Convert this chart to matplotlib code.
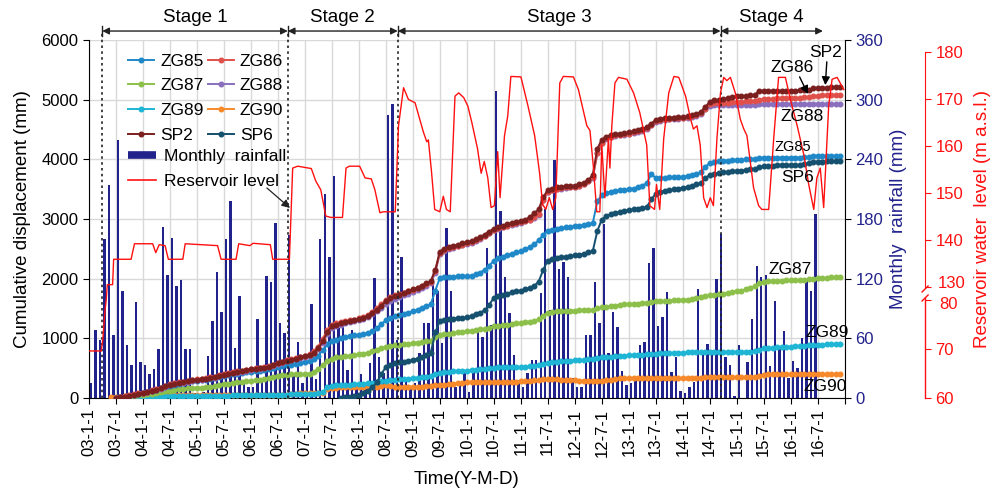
import numpy as np
import pandas as pd
import matplotlib
matplotlib.use("Agg")
import matplotlib.pyplot as plt
import matplotlib.dates as mdates
from matplotlib.lines import Line2D

plt.rcParams['font.family'] = ['Liberation Sans', 'DejaVu Sans']

NAVY = '#22228c'
RED = '#ff1010'

# monthly rainfall (mm), 2003-01 .. 2016-06
rain = [
    15, 68, 58, 160, 214, 63, 259, 108, 53, 33, 97, 36,
    33, 24, 29, 49, 172, 124, 161, 113, 119, 49, 49, 5,
    3, 6, 42, 77, 127, 86, 160, 198, 50, 103, 18, 11,
    11, 79, 18, 123, 117, 176, 75, 65, 164, 25, 56, 15,
    22, 95, 19, 160, 205, 142, 223, 70, 71, 28, 68, 11,
    24, 15, 35, 121, 41, 25, 285, 296, 58, 142, 18, 11,
    15, 45, 75, 75, 124, 108, 55, 171, 108, 11, 13, 25,
    6, 28, 66, 61, 151, 73, 309, 188, 122, 85, 43, 18,
    11, 25, 38, 38, 106, 190, 88, 239, 130, 137, 122, 20,
    11, 11, 63, 63, 117, 75, 175, 45, 86, 71, 27, 13,
    15, 18, 53, 56, 136, 151, 72, 81, 107, 26, 41, 7,
    5, 11, 16, 110, 47, 54, 48, 120, 165, 41, 33, 2,
    53, 0, 36, 79, 133, 122, 124, 32, 98, 52, 67, 20,
    37, 30, 60, 118, 108, 185,
]
rain_start = "2003-01-01"

# cumulative displacement (mm), monthly
zg85 = [
    0, 10, 25, 40, 55, 70,
    85, 100, 120, 140, 160, 185, 205, 220, 235, 250, 265, 280,
    290, 300, 310, 320, 335, 350, 370, 385, 400, 410, 420, 430,
    440, 450, 460, 470, 480, 500, 520, 535, 550, 560, 575, 590,
    600, 615, 650, 710, 800, 900, 960, 980, 1000, 1020, 1040, 1050,
    1060, 1070, 1090, 1120, 1170, 1240, 1300, 1340, 1370, 1390, 1410, 1430,
    1450, 1480, 1510, 1540, 1570, 1800, 2010, 2030, 2030, 2030, 2040, 2040,
    2040, 2050, 2070, 2100, 2150, 2220, 2300, 2340, 2370, 2400, 2420, 2440,
    2460, 2490, 2530, 2580, 2640, 2740, 2800, 2820, 2840, 2850, 2860, 2870,
    2880, 2890, 2900, 2910, 2930, 3300, 3400, 3440, 3460, 3470, 3480, 3490,
    3500, 3510, 3530, 3560, 3600, 3750, 3690, 3690, 3690, 3700, 3700, 3700,
    3710, 3720, 3730, 3750, 3780, 3870, 3940, 3960, 3970, 3980, 3980, 3990,
    3990, 3990, 4000, 4000, 4000, 4020, 4030, 4030, 4030, 4030, 4030, 4030,
    4030, 4030, 4030, 4040, 4040, 4060, 4060, 4060, 4060, 4060, 4060, 4060,
]
zg86 = [
    0, 12, 28, 44, 60, 76,
    92, 108, 128, 150, 175, 205, 230, 245, 260, 275, 290, 305,
    315, 325, 335, 345, 360, 380, 400, 415, 430, 445, 460, 475,
    490, 500, 510, 520, 535, 560, 590, 610, 630, 650, 670, 690,
    710, 735, 780, 860, 990, 1140, 1230, 1250, 1270, 1290, 1305, 1315,
    1335, 1355, 1395, 1445, 1500, 1570, 1640, 1690, 1720, 1740, 1765, 1790,
    1815, 1840, 1870, 1905, 1945, 2130, 2430, 2480, 2510, 2530, 2550, 2570,
    2590, 2610, 2640, 2680, 2720, 2770, 2820, 2850, 2870, 2890, 2910, 2930,
    2950, 2970, 2990, 3030, 3080, 3320, 3450, 3490, 3510, 3520, 3530, 3530,
    3540, 3560, 3590, 3630, 3700, 4100, 4280, 4350, 4380, 4400, 4410, 4420,
    4430, 4450, 4470, 4490, 4520, 4580, 4640, 4660, 4670, 4680, 4690, 4690,
    4700, 4710, 4720, 4740, 4770, 4850, 4920, 4940, 4950, 4950, 4950, 4960,
    4960, 4960, 4970, 4970, 4980, 5000, 5010, 5010, 5010, 5020, 5020, 5020,
    5030, 5030, 5030, 5040, 5040, 5060, 5060, 5070, 5070, 5070, 5080, 5080,
]
zg87 = [
    0, 5, 15, 25, 35, 45,
    55, 65, 75, 85, 100, 115, 125, 135, 145, 155, 160, 165,
    170, 175, 180, 190, 200, 215, 230, 240, 250, 260, 270, 280,
    290, 300, 310, 320, 335, 350, 370, 380, 390, 395, 400, 400,
    405, 410, 430, 480, 550, 620, 660, 680, 690, 700, 710, 720,
    730, 740, 760, 780, 810, 840, 860, 870, 880, 890, 900, 910,
    920, 930, 940, 950, 960, 1020, 1060, 1070, 1080, 1090, 1100, 1110,
    1120, 1130, 1140, 1150, 1160, 1180, 1200, 1210, 1220, 1230, 1240, 1250,
    1260, 1270, 1280, 1290, 1320, 1380, 1430, 1440, 1450, 1455, 1460, 1465,
    1465, 1470, 1470, 1475, 1480, 1500, 1520, 1530, 1540, 1550, 1560, 1570,
    1570, 1580, 1580, 1590, 1600, 1610, 1620, 1620, 1630, 1630, 1640, 1640,
    1640, 1650, 1660, 1670, 1690, 1710, 1720, 1730, 1740, 1750, 1760, 1780,
    1790, 1800, 1820, 1840, 1870, 1920, 1950, 1960, 1960, 1960, 1965, 1970,
    1970, 1975, 1980, 1985, 1990, 2000, 2005, 2010, 2015, 2020, 2020, 2020,
]
zg88 = [
    0, 8, 22, 36, 50, 64,
    78, 94, 114, 134, 158, 188, 212, 228, 243, 258, 272, 287,
    297, 307, 317, 327, 342, 362, 382, 397, 412, 427, 442, 457,
    472, 482, 492, 502, 517, 542, 572, 592, 612, 632, 652, 672,
    690, 710, 750, 815, 930, 1080, 1180, 1210, 1230, 1250, 1270, 1285,
    1300, 1320, 1350, 1400, 1450, 1510, 1580, 1630, 1660, 1690, 1720, 1750,
    1780, 1810, 1840, 1880, 1920, 2100, 2420, 2470, 2500, 2520, 2540, 2560,
    2580, 2600, 2630, 2670, 2710, 2760, 2810, 2840, 2860, 2880, 2900, 2920,
    2940, 2960, 2980, 3020, 3070, 3320, 3450, 3480, 3500, 3510, 3520, 3530,
    3540, 3560, 3590, 3630, 3690, 4100, 4280, 4340, 4370, 4390, 4400, 4410,
    4420, 4440, 4460, 4480, 4510, 4570, 4630, 4650, 4660, 4670, 4680, 4680,
    4690, 4700, 4710, 4730, 4760, 4840, 4900, 4910, 4910, 4910, 4910, 4910,
    4910, 4910, 4910, 4910, 4915, 4920, 4920, 4920, 4920, 4920, 4920, 4920,
    4920, 4920, 4920, 4925, 4925, 4930, 4930, 4930, 4930, 4930, 4930, 4930,
]
zg89 = [
    0, 5, 10, 15, 15, 20,
    20, 20, 25, 25, 25, 30, 30, 30, 30, 30, 35, 35,
    35, 35, 35, 40, 40, 40, 40, 40, 45, 45, 45, 45,
    45, 45, 50, 50, 50, 50, 55, 55, 55, 60, 60, 60,
    60, 65, 70, 80, 100, 180, 200, 210, 215, 220, 225, 230,
    235, 240, 245, 250, 260, 280, 290, 300, 310, 315, 320, 325,
    330, 340, 350, 360, 375, 400, 420, 430, 440, 450, 455, 460,
    460, 470, 475, 480, 490, 500, 510, 520, 520, 520, 520, 520,
    520, 525, 530, 540, 550, 570, 590, 600, 610, 615, 620, 625,
    630, 635, 640, 650, 660, 670, 680, 690, 695, 700, 705, 710,
    715, 720, 720, 725, 730, 740, 745, 750, 750, 755, 755, 760,
    760, 765, 765, 770, 770, 775, 775, 775, 775, 775, 775, 775,
    775, 775, 775, 775, 780, 810, 830, 840, 845, 850, 855, 860,
    860, 865, 870, 875, 880, 885, 890, 895, 900, 900, 900, 900,
]
zg90 = [
    20, 22, 25, 28, 30, 32, 35,
    35, 40, 40, 40, 40, 45, 45, 45, 45, 45, 45, 45,
    45, 45, 45, 45, 45, 45, 45, 45, 45, 45, 45, 45,
    45, 45, 45, 45, 45, 50, 50, 50, 55, 60, 70, 80,
    80, 80, 85, 85, 90, 150, 170, 175, 180, 180, 180, 180,
    180, 180, 180, 185, 190, 200, 210, 200, 190, 185, 180, 180,
    180, 185, 190, 195, 200, 210, 220, 225, 230, 240, 250, 255,
    260, 265, 265, 270, 270, 270, 270, 270, 270, 270, 270, 275,
    280, 285, 290, 300, 305, 315, 320, 320, 315, 310, 305, 300,
    295, 290, 290, 290, 290, 290, 290, 300, 310, 320, 330, 330,
    330, 330, 330, 330, 330, 330, 330, 330, 330, 335, 335, 335,
    335, 340, 340, 340, 340, 345, 345, 350, 350, 350, 350, 350,
    350, 350, 355, 355, 360, 370, 390, 400, 400, 400, 400, 400,
    400, 400, 400, 400, 400, 400, 400, 400, 400, 400, 400, 400,
]
sp2 = [
    0, 10, 25, 40, 55, 70,
    85, 100, 120, 140, 165, 195, 220, 235, 250, 265, 280, 295,
    305, 315, 325, 335, 350, 370, 390, 405, 420, 435, 450, 465,
    480, 490, 500, 510, 525, 550, 580, 600, 620, 640, 660, 680,
    700, 720, 760, 830, 950, 1100, 1200, 1230, 1250, 1270, 1290, 1300,
    1320, 1340, 1380, 1430, 1480, 1550, 1620, 1680, 1710, 1730, 1760, 1790,
    1820, 1850, 1880, 1920, 1960, 2150, 2450, 2500, 2530, 2550, 2570, 2590,
    2610, 2630, 2660, 2700, 2740, 2790, 2840, 2870, 2890, 2910, 2930, 2950,
    2970, 2990, 3030, 3100, 3160, 3370, 3480, 3510, 3530, 3540, 3550, 3550,
    3560, 3580, 3610, 3650, 3740, 4180, 4330, 4380, 4410, 4420, 4430, 4440,
    4450, 4470, 4490, 4510, 4540, 4600, 4660, 4680, 4690, 4700, 4700, 4710,
    4710, 4720, 4740, 4760, 4790, 4880, 4960, 4990, 5000, 5010, 5020, 5040,
    5060, 5060, 5060, 5070, 5080, 5150, 5150, 5150, 5150, 5150, 5150, 5150,
    5150, 5150, 5160, 5160, 5170, 5190, 5200, 5200, 5200, 5210, 5210, 5210,
]
sp6 = [
    0, 10, 20, 35,
    50, 80, 120, 180, 260, 400, 520, 560, 580, 600, 610, 620,
    640, 660, 690, 720, 760, 1100, 1290, 1310, 1320, 1330, 1340, 1340,
    1350, 1370, 1400, 1430, 1470, 1560, 1680, 1710, 1730, 1750, 1770, 1790,
    1800, 1820, 1850, 1880, 1950, 2150, 2300, 2330, 2350, 2360, 2370, 2380,
    2390, 2400, 2420, 2440, 2460, 2800, 2990, 3050, 3080, 3100, 3120, 3140,
    3150, 3160, 3170, 3180, 3200, 3330, 3420, 3450, 3470, 3480, 3500, 3510,
    3520, 3540, 3560, 3580, 3600, 3680, 3740, 3760, 3770, 3780, 3790, 3800,
    3800, 3810, 3820, 3830, 3840, 3870, 3880, 3890, 3890, 3900, 3900, 3900,
    3900, 3900, 3910, 3920, 3930, 3960, 3960, 3960, 3970, 3970, 3970, 3970,
]

# name, values, first month, colour
series = [
    ("ZG85", zg85, "2003-07-01", '#1f88c8'),
    ("ZG86", zg86, "2003-07-01", '#e0504a'),
    ("ZG87", zg87, "2003-07-01", '#8dc04b'),
    ("ZG88", zg88, "2003-07-01", '#8a6fbf'),
    ("ZG89", zg89, "2003-07-01", '#1fb5d5'),
    ("ZG90", zg90, "2003-06-01", '#f7892b'),
    ("SP2", sp2, "2003-07-01", '#7b1f1f'),
    ("SP6", sp6, "2007-09-01", '#15506e'),
]
draw_order = ["ZG90", "ZG89", "ZG87", "ZG85", "SP6", "ZG88", "ZG86", "SP2"]

# reservoir water level (m a.s.l.)
res_dates = [
    "2003-01-01", "2003-03-25", "2003-04-05", "2003-04-20", "2003-04-28", "2003-05-05",
    "2003-06-10", "2003-06-17", "2003-10-13", "2003-11-05", "2004-03-07", "2004-03-28",
    "2004-04-20", "2004-05-30", "2004-06-21", "2004-09-27", "2004-10-13", "2005-05-20",
    "2005-06-13", "2005-09-22", "2005-10-10", "2005-12-25", "2006-01-15", "2006-05-12",
    "2006-05-28", "2006-09-18", "2006-10-10", "2006-11-13", "2007-02-13", "2007-03-16",
    "2007-04-18", "2007-05-22", "2007-06-24", "2007-09-12", "2007-10-06", "2007-10-28",
    "2008-01-06", "2008-02-12", "2008-03-25", "2008-04-18", "2008-05-22", "2008-06-15",
    "2008-09-03", "2008-09-25", "2008-10-29", "2008-12-01", "2009-01-15", "2009-03-12",
    "2009-04-04", "2009-04-15", "2009-05-06", "2009-05-28", "2009-07-01", "2009-07-25",
    "2009-08-15", "2009-09-10", "2009-10-12", "2009-11-06", "2009-12-10", "2010-01-07",
    "2010-02-03", "2010-03-13", "2010-04-07", "2010-04-28", "2010-05-22", "2010-06-13",
    "2010-07-06", "2010-07-28", "2010-08-13", "2010-09-12", "2010-10-04", "2010-10-25",
    "2011-01-01", "2011-02-18", "2011-04-04", "2011-05-06", "2011-05-28", "2011-06-18",
    "2011-07-12", "2011-08-04", "2011-08-25", "2011-09-21", "2011-10-15", "2011-12-22",
    "2012-01-25", "2012-03-22", "2012-04-12", "2012-05-06", "2012-05-28", "2012-06-18",
    "2012-07-01", "2012-07-22", "2012-08-15", "2012-08-25", "2012-09-07", "2012-09-28",
    "2012-10-22", "2012-12-18", "2013-02-01", "2013-03-15", "2013-05-01", "2013-05-22",
    "2013-06-23", "2013-07-06", "2013-07-28", "2013-08-24", "2013-09-27", "2013-11-01",
    "2013-12-04", "2014-01-19", "2014-02-22", "2014-03-13", "2014-04-06", "2014-04-28",
    "2014-05-21", "2014-06-13", "2014-07-05", "2014-07-26", "2014-08-19", "2014-09-12",
    "2014-10-04", "2014-10-25", "2014-11-18", "2014-12-21", "2015-01-24", "2015-02-17",
    "2015-03-10", "2015-04-24", "2015-05-28", "2015-06-19", "2015-08-04", "2015-09-07",
    "2015-10-10", "2015-11-25", "2015-12-28", "2016-02-13", "2016-03-29", "2016-05-01",
    "2016-06-04", "2016-06-25", "2016-07-18", "2016-08-10", "2016-09-13", "2016-10-06",
    "2016-11-09", "2016-12-24",
]
res_levels = [
    69.6, 69.6, 72.0, 78.0, 80.5, 130.5,
    130.5, 135.9, 135.9, 139.2, 139.2, 137.3,
    139.0, 138.8, 135.9, 135.9, 139.2, 138.8,
    135.9, 135.9, 139.2, 138.8, 139.3, 139.0,
    135.9, 135.9, 155.3, 155.7, 155.2, 152.5,
    150.7, 145.1, 144.8, 144.8, 155.3, 155.7,
    155.7, 153.2, 153.0, 150.7, 145.8, 146.0,
    146.0, 164.3, 172.4, 169.9, 169.2, 163.0,
    160.9, 161.3, 154.6, 146.5, 146.0, 149.3,
    146.5, 146.0, 170.6, 171.3, 170.3, 168.5,
    165.0, 159.5, 154.2, 156.7, 153.2, 146.9,
    147.3, 158.8, 149.0, 162.2, 166.4, 174.8,
    174.7, 168.5, 162.2, 154.6, 147.6, 146.5,
    149.0, 146.5, 149.0, 173.4, 174.8, 174.7,
    172.0, 164.3, 163.3, 155.3, 146.0, 146.0,
    160.2, 149.0, 161.6, 155.3, 164.3, 173.4,
    174.6, 174.2, 171.3, 167.1, 160.2, 147.3,
    146.5, 151.8, 146.5, 161.6, 171.3, 174.8,
    174.6, 170.6, 165.7, 163.6, 164.3, 160.2,
    149.0, 146.9, 149.0, 147.3, 161.6, 171.3,
    174.6, 173.9, 174.6, 171.3, 165.7, 163.6,
    162.2, 151.1, 147.3, 146.5, 146.5, 161.6,
    174.6, 174.6, 170.0, 164.3, 158.1, 151.8,
    146.5, 153.2, 155.3, 146.9, 168.5, 174.2,
    174.6, 172.0,
]
res_ticks = [60, 70, 80, 130, 140, 150, 160, 170, 180]

stage_names = ["Stage 1", "Stage 2", "Stage 3", "Stage 4"]
stage_bounds = ["2003-04-01", "2006-09-07", "2008-09-20", "2014-09-13", "2016-08-05"]

# labels at the line ends: text, x, y (axes fraction), size
end_labels = [
    ("SP2", 0.975, 0.964, 12.5), ("ZG86", 0.930, 0.922, 12.5),
    ("ZG88", 0.944, 0.785, 12.5), ("ZG85", 0.931, 0.701, 10.5),
    ("SP6", 0.937, 0.615, 12.5), ("ZG87", 0.927, 0.358, 12.5),
    ("ZG89", 0.976, 0.182, 12.5), ("ZG90", 0.974, 0.031, 12.5),
]

# broken reservoir axis: 60-80 below, 130-180 above (pixel height over the base)
LOW_K, UP_K, H80, H130, H180 = 4.9, 4.7, 98.0, 111.0, 346.0


def res_fwd(v):
    v = np.asarray(v, dtype=float)
    return np.where(v <= 80, (v - 60) * LOW_K,
                    np.where(v >= 130, H180 - (180 - v) * UP_K,
                             H80 + (v - 80) * (H130 - H80) / 50))


def res_inv(h):
    h = np.asarray(h, dtype=float)
    return np.where(h <= H80, 60 + h / LOW_K,
                    np.where(h >= H130, 180 - (H180 - h) / UP_K,
                             80 + (h - H80) * 50 / (H130 - H80)))


fig = plt.figure(figsize=(9.95, 4.93), dpi=100)
ax = fig.add_axes([0.0894, 0.1927, 0.7598, 0.7262])
ax2 = ax.twinx()
ax3 = ax.twinx()
ax2.set_zorder(1)
ax.set_zorder(2)
ax3.set_zorder(3)
ax.patch.set_visible(False)

x0, x1 = pd.Timestamp("2003-01-01"), pd.Timestamp("2017-01-01")
ticks = pd.date_range(x0, x1, freq="6MS")
tick_labels = [f"{d.year % 100:02d}-{d.month}-{d.day}" for d in ticks[:-1]] + [""]

# rainfall bars + grid on the lowest axes
rain_dates = pd.date_range(rain_start, periods=len(rain), freq="MS") + pd.Timedelta(days=14)
ax2.bar(rain_dates, rain, width=16, color=NAVY, zorder=3)
ax2.set_ylim(0, 360)
ax2.set_yticks(range(0, 361, 60))
ax2.grid(axis='y', color='#d9d9d9', lw=1, zorder=0)
for t in ticks:
    ax2.axvline(t, color='#d9d9d9', lw=1, zorder=0)
ax2.tick_params(axis='y', labelcolor=NAVY, labelsize=12, length=4, direction='out')
for s in ['top', 'left', 'bottom']:
    ax2.spines[s].set_visible(False)
ax2.set_ylabel("Monthly  rainfall (mm)", color=NAVY, fontsize=13.5)
ax2.yaxis.label.set_va('center')
ax2.yaxis.set_label_coords(1.071, 0.5)

# displacement lines
handles = {}
for name, vals, start, col in series:
    d = pd.date_range(start, periods=len(vals), freq="MS")
    z = 4 + draw_order.index(name)
    ln, = ax.plot(d, vals, '-o', color=col, lw=1.4, ms=3.3, label=name, zorder=z)
    handles[name] = ln

ax.set_xlim(x0, x1)
ax.set_ylim(0, 6000)
ax.set_yticks(range(0, 6001, 1000))
ax.set_xticks(ticks)
ax.set_xticklabels(tick_labels, rotation=90)
ax.tick_params(axis='both', labelsize=12, length=4, direction='out')
ax.spines['top'].set_visible(False)
ax.spines['right'].set_visible(False)
ax.set_ylabel("Cumulative displacement (mm)", fontsize=13.5)
ax.yaxis.label.set_va('center')
ax.yaxis.set_label_coords(-0.0873, 0.5)
ax.set_xlabel("Time(Y-M-D)", fontsize=13.5)
ax.xaxis.label.set_va('center')
ax.xaxis.set_label_coords(0.5, -0.229)

# reservoir level on the broken axis
res_line, = ax3.plot(pd.to_datetime(res_dates), res_levels, color=RED, lw=1.0)
ax3.set_yscale('function', functions=(res_fwd, res_inv))
ax3.set_ylim(60, 180 + 12 / UP_K)
ax3.set_yticks(res_ticks)
# 80 and 130 sit close together: their labels are placed by hand below
ax3.set_yticklabels([str(t) if t not in (80, 130) else "" for t in res_ticks])
ax3.tick_params(axis='y', colors=RED, labelsize=12, length=4, direction='out')
for s in ['top', 'left', 'bottom']:
    ax3.spines[s].set_visible(False)
sx = 1.106
ax3.spines['right'].set_position(('axes', sx))
ax3.spines['right'].set_color(RED)
ax3.spines['right'].set_bounds(130, 180)
ax3.plot([sx, sx], [0, (H80 + 2) / 358], color=RED, lw=1, transform=ax3.transAxes,
         clip_on=False)
for ya, yb in [((H80 - 1) / 358, (H80 + 5) / 358), ((H130 - 5) / 358, (H130 + 1) / 358)]:
    ax3.plot([sx - 0.004, sx + 0.004], [ya, yb], color=RED, lw=1,
             transform=ax3.transAxes, clip_on=False)
ytr = ax3.get_yaxis_transform()
ax3.text(1.1225, res_inv(H130 + 3), "130", color=RED, fontsize=12, transform=ytr,
         ha='left', va='center')
ax3.text(1.1245, res_inv(H80 - 5), "80", color=RED, fontsize=12, transform=ytr,
         ha='left', va='center')
ax3.set_ylabel("Reservoir water  level (m a.s.l.)", color=RED, fontsize=13.5)
ax3.yaxis.label.set_va('center')
ax3.yaxis.set_label_coords(1.1825, 0.5)

# legends
order = ["ZG85", "ZG87", "ZG89", "SP2", "ZG86", "ZG88", "ZG90", "SP6"]
leg1 = ax3.legend([handles[n] for n in order], order, ncol=2, loc='upper left',
                  bbox_to_anchor=(0.0516, 0.962), frameon=False, fontsize=12.5,
                  handlelength=1.5, handletextpad=0.35, columnspacing=0.25,
                  labelspacing=0.55, borderaxespad=0, borderpad=0)
ax3.add_artist(leg1)
rain_handle = Line2D([], [], color=NAVY, lw=5.5, solid_capstyle='butt')
res_handle = Line2D([], [], color=RED, lw=1.2)
ax3.legend([rain_handle, res_handle], ["Monthly  rainfall", "Reservoir level"],
           loc='upper left', bbox_to_anchor=(0.0516, 0.697), frameon=False,
           fontsize=12.5, handlelength=1.6, handletextpad=0.5, labelspacing=0.6,
           borderaxespad=0, borderpad=0)

ax3.annotate("", xy=(0.2659, 0.5307), xytext=(0.2354, 0.5866), xycoords='axes fraction',
             arrowprops=dict(arrowstyle='-|>', color='#222222', lw=0.9, mutation_scale=12,
                             shrinkA=0, shrinkB=0))

# stages
tr = ax.get_xaxis_transform()
yb = 1.025
bounds = mdates.date2num(pd.to_datetime(stage_bounds).to_pydatetime())
for i, name in enumerate(stage_names):
    a, b = bounds[i], bounds[i + 1]
    ax.annotate("", xy=(b, yb), xytext=(a, yb), xycoords=tr,
                arrowprops=dict(arrowstyle='<|-|>', color='#222222', lw=1,
                                mutation_scale=10, shrinkA=0, shrinkB=0),
                annotation_clip=False)
    ax.text((a + b) / 2, 1.064, name, transform=tr, ha='center', va='center',
            fontsize=13.5)
for d in bounds[:-1]:
    ax.plot([d, d], [0, yb], color='#222222', lw=1.2, ls=(0, (1.5, 2)), transform=tr,
            clip_on=False, zorder=20)
    ax.plot([d, d], [yb - 0.014, yb + 0.014], color='#222222', lw=1, transform=tr,
            clip_on=False)

for txt, tx, ty, fs in end_labels:
    ax3.text(tx, ty, txt, transform=ax3.transAxes, ha='center', va='center', fontsize=fs)
ax3.annotate("", xy=(0.974, 0.874), xytext=(0.976, 0.939), xycoords='axes fraction',
             arrowprops=dict(arrowstyle='-|>', color='black', lw=1, mutation_scale=12,
                             shrinkA=0, shrinkB=0))
ax3.annotate("", xy=(0.951, 0.849), xytext=(0.940, 0.897), xycoords='axes fraction',
             arrowprops=dict(arrowstyle='-|>', color='black', lw=1, mutation_scale=12,
                             shrinkA=0, shrinkB=0))

fig.savefig("out.png", dpi=100)
